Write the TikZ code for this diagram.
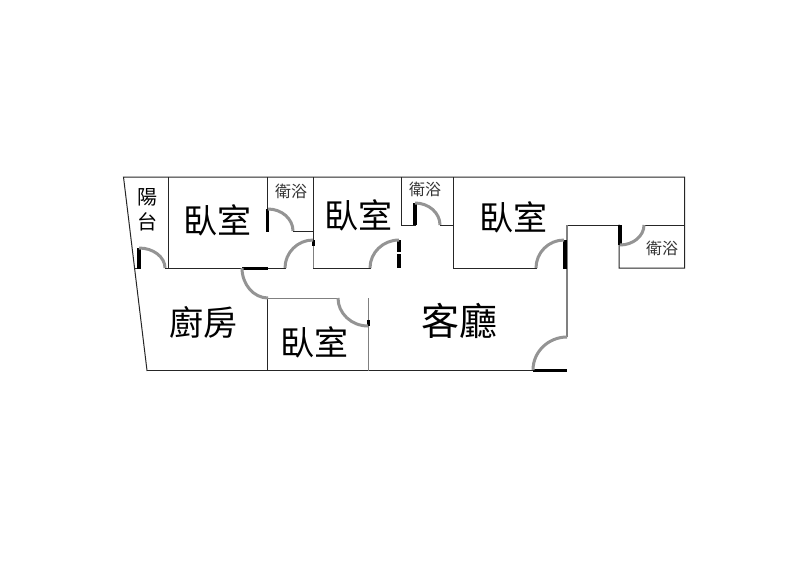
\documentclass[tikz,border=0pt]{standalone}
\usepackage{fontspec}
\usetikzlibrary{calc}
\setmainfont{Noto Sans CJK TC}
\tikzset{
  wall/.style={draw=black!85,line width=1pt,line cap=rect},
  graywall/.style={draw=black!50,line width=1.8pt},
  jamb/.style={draw=black,line width=3.2pt},
  doorarc/.style={draw=black!42,line width=3pt},
  big/.style={font=\fontsize{34}{34}\selectfont,inner sep=0pt},
  huge/.style={font=\fontsize{38}{38}\selectfont,inner sep=0pt},
  mid/.style={font=\fontsize{20}{20}\selectfont,inner sep=0pt},
  small/.style={font=\fontsize{16}{16}\selectfont,inner sep=0pt,text=black!80},
}
% start point, end point, corner of the quarter circle
\newcommand{\doorswing}[3]{\draw[doorarc] (#1) .. controls ($(#1)!0.55!(#3)$) and ($(#2)!0.55!(#3)$) .. (#2);}
\begin{document}
\begin{tikzpicture}[x=1pt,y=-1pt]
\useasboundingbox (0,0) rectangle (800,565);
\fill[white] (0,0) rectangle (800,565);
% outer walls
\draw[wall] (139,268) -- (134.5,268);
\draw[wall] (619,225) -- (567,225);
\draw[wall] (147,370.5) -- (123.5,177) -- (684.5,177) -- (684.5,268) -- (619,268) -- (619,225);
\draw[wall] (644,225) -- (684.5,225);
\draw[wall] (147,370.5) -- (533,370.5);
\draw[graywall] (567,225) -- (567,337);
% inner walls
\draw[wall] (168.5,177) -- (168.5,268);
\draw[wall] (165,268) -- (242,268);
\draw[wall] (268,268) -- (285,268);
\draw[wall] (267.5,177) -- (267.5,210);
\draw[wall] (293,231) -- (313.5,231);
\draw[wall] (313.5,177) -- (313.5,240);
\draw[graywall] (313.5,245) -- (313.5,268);
\draw[wall] (313.5,268) -- (370,268);
\draw[wall] (401,177) -- (401,225) -- (415,225);
\draw[wall] (440,225) -- (453.5,225);
\draw[wall] (453.5,177) -- (453.5,268) -- (536,268);
\draw[wall] (267.5,298) -- (267.5,370.5);
\draw[draw=black!50,line width=1pt] (267.5,298) -- (338,298);
\draw[graywall] (368.5,298) -- (368.5,370.5);
% door leaves
\draw[jamb] (139,248) -- (139,269);
\draw[jamb] (242,268.5) -- (268,268.5);
\draw[jamb] (267.5,209) -- (267.5,232);
\draw[jamb] (313.5,240) -- (313.5,246);
\draw[jamb] (399,240) -- (399,252);
\draw[jamb] (399,254) -- (399,268);
\draw[jamb] (368.5,320) -- (368.5,326);
\draw[jamb] (415,203) -- (415,225);
\draw[jamb] (565,240) -- (565,269);
\draw[jamb] (620,225) -- (620,245);
\draw[jamb] (533,370.5) -- (567,370.5);
% door swings
\doorswing{139,248}{165,268}{165,248}
\doorswing{242,268}{268,298}{242,298}
\doorswing{268,209}{293,231}{293,209}
\doorswing{285,268}{313,240}{285,240}
\doorswing{370,268}{399,240}{370,240}
\doorswing{338,298}{368,326}{338,326}
\doorswing{415,203}{440,225}{440,203}
\doorswing{536,268}{564,240}{536,240}
\doorswing{620,245}{644,225}{644,245}
\doorswing{533,370}{567,337}{533,337}
% labels
\node[mid] (yang) at (147.5,197) {陽};
\node[mid] (tai) at (147.5,222) {台};
\node[big] (room1) at (217,220) {臥室};
\node[big] (room2) at (358.5,215) {臥室};
\node[big] (room3) at (513,217) {臥室};
\node[big] (room4) at (314.5,342) {臥室};
\node[big] (kitchen) at (203,322) {廚房};
\node[huge] (living) at (459.5,321) {客廳};
\node[small] (bath1) at (291,191.5) {衛浴};
\node[small] (bath2) at (425,189) {衛浴};
\node[small] (bath3) at (662,248) {衛浴};
\end{tikzpicture}
\end{document}
